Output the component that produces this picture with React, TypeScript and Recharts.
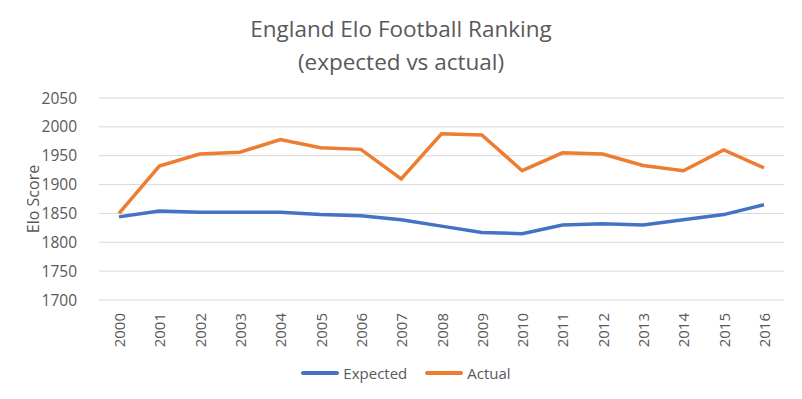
import { LineChart, Line, XAxis, YAxis, CartesianGrid, Legend } from 'recharts';

const years = [
  '2000', '2001', '2002', '2003', '2004', '2005', '2006', '2007', '2008',
  '2009', '2010', '2011', '2012', '2013', '2014', '2015', '2016',
];
const expected = [1844, 1854, 1852, 1852, 1852, 1848, 1846, 1839, 1828, 1817, 1815, 1830, 1832, 1830, 1839, 1848, 1865];
const actual = [1850, 1932, 1953, 1956, 1978, 1964, 1961, 1910, 1988, 1986, 1924, 1955, 1953, 1933, 1924, 1960, 1929];
const yTicks = [1700, 1750, 1800, 1850, 1900, 1950, 2000, 2050];

const BLUE = '#4472C4';
const ORANGE = '#ED7D31';
const TEXT = '#595959';
const FONT = '"Open Sans", sans-serif';

const data = years.map((year, i) => ({ year, Expected: expected[i], Actual: actual[i] }));

function YearTick({ x, y, payload }: any) {
  return (
    <text
      x={x}
      y={y + 5}
      transform={`rotate(-90, ${x}, ${y + 5})`}
      textAnchor="end"
      dominantBaseline="central"
      fill={TEXT}
      fontSize={15}
      fontFamily={FONT}
    >
      {payload.value}
    </text>
  );
}

function LegendBox() {
  const item = (label: string, color: string, gap: number) => (
    <div style={{ display: 'flex', alignItems: 'center', marginRight: gap }}>
      <div style={{ width: 38, height: 4, borderRadius: 2, background: color, marginRight: 4 }} />
      <span style={{ color: TEXT, fontSize: 15, fontFamily: FONT }}>{label}</span>
    </div>
  );
  return (
    <div style={{ display: 'flex', justifyContent: 'center', alignItems: 'center', height: 46, paddingLeft: 28 }}>
      {item('Expected', BLUE, 18)}
      {item('Actual', ORANGE, 0)}
    </div>
  );
}

export default function App() {
  return (
    <div style={{ position: 'fixed', left: 0, top: 0, width: 802, height: 399, background: '#fff' }}>
      <div
        style={{
          position: 'absolute', left: 0, top: 12, width: 802, textAlign: 'center',
          color: TEXT, fontFamily: FONT, fontSize: 22.5, lineHeight: '33px',
        }}
      >
        England Elo Football Ranking
        <br />
        (expected vs actual)
      </div>
      <LineChart width={802} height={399} data={data} margin={{ top: 98, right: 18, left: 0, bottom: 3 }}>
        <CartesianGrid vertical={false} stroke="#d9d9d9" />
        <XAxis
          dataKey="year"
          axisLine={false}
          tickLine={false}
          interval={0}
          height={50}
          padding={{ left: 20, right: 20 }}
          tick={<YearTick />}
        />
        <YAxis
          domain={[1700, 2050]}
          ticks={yTicks}
          axisLine={false}
          tickLine={false}
          width={99}
          tickMargin={16}
          tick={{ fill: TEXT, fontSize: 15.5, fontFamily: FONT }}
          label={{
            content: () => (
              <text
                x={33}
                y={199}
                transform="rotate(-90, 33, 199)"
                textAnchor="middle"
                dominantBaseline="central"
                fill={TEXT}
                fontSize={16}
                fontFamily={FONT}
              >
                Elo Score
              </text>
            ),
          }}
        />
        <Legend verticalAlign="bottom" height={46} content={() => <LegendBox />} />
        <Line type="linear" dataKey="Expected" stroke={BLUE} strokeWidth={3.5} dot={false} isAnimationActive={false} />
        <Line type="linear" dataKey="Actual" stroke={ORANGE} strokeWidth={3.5} dot={false} isAnimationActive={false} />
      </LineChart>
    </div>
  );
}
